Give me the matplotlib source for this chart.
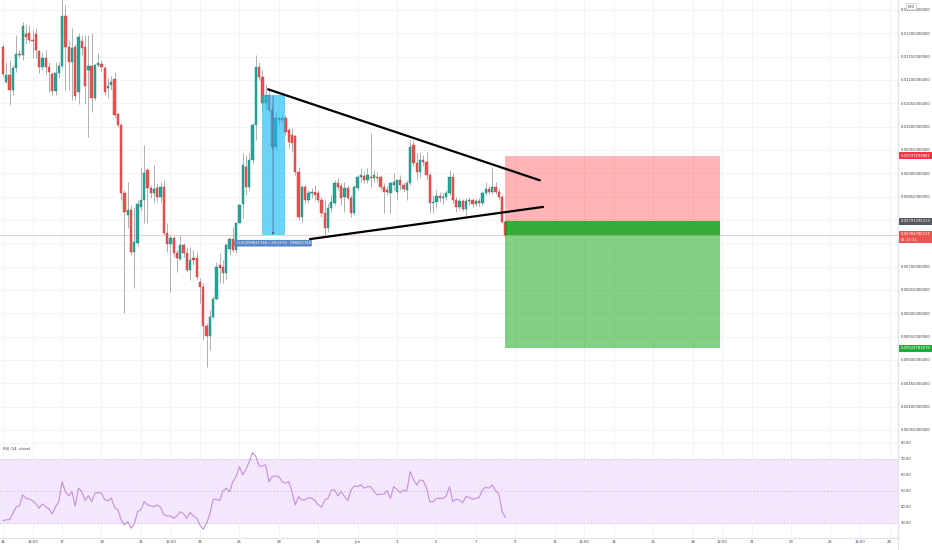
import numpy as np
import pandas as pd
import matplotlib
matplotlib.use("Agg")
import matplotlib.pyplot as plt
import matplotlib.dates as mdates
from matplotlib.transforms import blended_transform_factory
from matplotlib.lines import Line2D

# 4h candles from 14 May, prices in 1e-3 USD
open_m = [11.71, 10.96, 11.11, 10.79, 11.26, 11.56, 11.54, 11.99, 12.01, 11.86,
          11.99, 11.62, 11.28, 11.47, 11.28, 11.13, 10.76, 11.15, 11.30, 12.37,
          11.71, 11.39, 11.71, 10.74, 11.84, 11.71, 11.21, 11.30, 10.61, 11.32,
          11.34, 11.26, 10.83, 10.89, 11.02, 10.27, 10.04, 8.58, 8.11, 8.21,
          7.31, 7.51, 8.28, 8.43, 9.07, 8.69, 8.58, 8.69, 8.49, 8.71,
          7.72, 7.48, 7.61, 7.29, 7.16, 7.46, 7.29, 6.93, 7.19, 7.19,
          6.67, 6.56, 5.73, 5.51, 5.92, 6.31, 7.03, 6.99, 6.86, 7.38,
          7.59, 7.36, 7.94, 8.34, 9.14, 8.71, 9.29, 10.04, 11.28, 11.06,
          10.51, 10.68, 10.36, 9.56, 10.19, 10.14, 10.19, 9.93, 9.82, 9.80,
          9.03, 8.06, 8.71, 8.43, 8.58, 8.60, 8.58, 8.43, 8.15, 7.83,
          8.26, 8.36, 8.79, 8.73, 8.49, 8.69, 8.47, 8.15, 8.69, 8.92,
          8.94, 8.86, 8.92, 8.90, 8.92, 8.92, 8.71, 8.64, 8.58, 8.75,
          8.60, 8.86, 8.75, 8.64, 8.79, 9.61, 9.22, 9.03, 9.29, 9.24,
          8.96, 8.36, 8.39, 8.51, 8.47, 8.49, 8.58, 8.92, 8.43, 8.28,
          8.41, 8.24, 8.41, 8.43, 8.34, 8.41, 8.36, 8.58, 8.66, 8.60,
          8.71, 8.60, 8.49, 7.96]
high_m = [11.77, 11.39, 11.43, 11.32, 11.96, 11.64, 12.24, 12.20, 12.18, 12.07,
          12.11, 11.64, 11.60, 11.64, 11.39, 11.17, 11.39, 11.39, 12.75, 12.61,
          11.86, 12.11, 11.77, 12.01, 11.96, 11.96, 11.96, 12.01, 11.34, 11.58,
          11.43, 11.30, 11.04, 11.09, 11.17, 10.29, 10.08, 8.64, 8.81, 8.32,
          8.28, 8.43, 9.14, 9.61, 9.11, 8.75, 9.18, 8.79, 8.81, 8.86,
          7.94, 7.68, 7.66, 7.36, 7.68, 7.51, 7.40, 7.42, 7.36, 7.31,
          6.76, 6.65, 5.79, 6.07, 6.37, 7.10, 7.29, 7.14, 7.51, 7.64,
          7.85, 7.96, 8.34, 9.44, 9.39, 9.44, 10.08, 11.54, 11.39, 11.21,
          10.89, 10.83, 10.46, 10.31, 10.21, 10.25, 10.25, 9.97, 9.97, 9.82,
          9.14, 8.75, 8.75, 8.64, 8.69, 8.75, 8.64, 8.49, 8.43, 8.36,
          8.54, 8.86, 8.90, 8.79, 8.81, 8.75, 8.54, 8.75, 8.96, 9.11,
          9.03, 9.11, 9.86, 9.07, 9.03, 8.96, 8.79, 8.73, 8.81, 9.01,
          8.86, 8.96, 8.81, 8.86, 9.71, 9.71, 9.44, 9.46, 9.39, 9.46,
          9.01, 8.54, 8.64, 8.60, 8.58, 8.64, 9.07, 9.01, 8.49, 8.47,
          8.45, 8.47, 8.49, 8.47, 8.45, 8.47, 8.62, 8.81, 8.73, 9.14,
          8.81, 8.69, 8.54, 8.00]
low_m = [11.09, 10.94, 10.46, 10.68, 11.17, 11.47, 11.43, 11.77, 11.79, 11.47,
         11.47, 11.15, 11.21, 11.11, 10.74, 10.68, 10.68, 11.04, 11.26, 10.79,
         10.79, 10.57, 10.57, 10.49, 11.54, 10.49, 9.78, 10.31, 10.57, 11.28,
         11.17, 10.68, 10.61, 10.79, 10.19, 9.99, 8.43, 6.01, 7.83, 7.25,
         6.54, 7.44, 8.21, 7.94, 7.94, 8.47, 8.36, 8.39, 8.39, 7.68,
         7.31, 6.46, 7.21, 6.88, 7.14, 7.21, 6.88, 6.71, 7.04, 6.71,
         6.22, 5.43, 4.85, 5.21, 5.90, 6.29, 6.65, 6.65, 6.71, 7.25,
         7.31, 7.29, 7.94, 8.04, 8.54, 8.64, 9.22, 9.71, 11.00, 10.31,
         10.36, 10.31, 9.50, 9.50, 10.04, 10.10, 9.82, 9.54, 9.46, 8.96,
         8.00, 7.96, 8.36, 8.36, 8.47, 8.43, 8.39, 8.06, 7.64, 7.74,
         8.17, 8.32, 8.64, 8.32, 8.17, 8.43, 8.06, 8.11, 8.64, 8.81,
         8.79, 8.79, 8.71, 8.81, 8.81, 8.64, 8.15, 8.54, 8.15, 8.64,
         8.43, 8.64, 8.60, 8.43, 8.75, 9.16, 8.86, 8.90, 9.16, 8.86,
         8.15, 8.15, 8.28, 8.39, 8.34, 8.43, 8.54, 8.36, 8.17, 8.21,
         8.19, 8.06, 8.32, 8.28, 8.30, 8.30, 8.32, 8.54, 8.56, 8.56,
         8.56, 8.43, 7.94, 7.64]
close_m = [11.13, 11.11, 10.79, 11.26, 11.56, 11.54, 12.16, 11.92, 11.86, 11.84,
           11.64, 11.28, 11.47, 11.28, 11.17, 10.76, 11.15, 11.30, 12.37, 11.71,
           11.39, 11.69, 10.66, 11.92, 11.69, 10.87, 11.30, 10.61, 11.32, 11.36,
           11.28, 10.74, 10.87, 10.96, 10.25, 10.04, 8.58, 8.17, 8.21, 7.31,
           7.53, 8.34, 8.43, 9.01, 8.69, 8.58, 8.66, 8.49, 8.71, 7.72,
           7.48, 7.61, 7.29, 7.19, 7.46, 7.29, 6.93, 7.14, 7.14, 6.78,
           6.56, 5.73, 5.51, 5.92, 6.31, 6.99, 6.97, 6.86, 7.46, 7.59,
           7.36, 7.94, 8.32, 9.18, 8.71, 9.29, 10.04, 11.28, 11.06, 10.51,
           10.68, 10.36, 9.56, 10.19, 10.14, 10.19, 9.89, 9.67, 9.65, 9.03,
           8.06, 8.71, 8.43, 8.58, 8.60, 8.54, 8.43, 8.15, 7.83, 8.26,
           8.39, 8.79, 8.71, 8.47, 8.69, 8.47, 8.15, 8.71, 8.92, 8.96,
           8.86, 8.96, 8.90, 8.96, 8.90, 8.71, 8.60, 8.60, 8.79, 8.81,
           8.86, 8.75, 8.66, 8.79, 9.56, 9.22, 9.03, 9.29, 9.24, 8.96,
           8.36, 8.39, 8.51, 8.47, 8.49, 8.58, 8.92, 8.43, 8.28, 8.41,
           8.24, 8.41, 8.43, 8.34, 8.41, 8.36, 8.58, 8.66, 8.60, 8.71,
           8.60, 8.49, 7.96, 7.668]
rsi_vals = [31.5, 32, 32, 36, 40, 40.6, 47.5, 45.4, 44.8, 44,
            41.9, 39.2, 41.9, 40.2, 38.8, 35.6, 40.2, 43.3, 55.8, 49.6,
            46.9, 49.6, 40.6, 51.7, 49.6, 44, 47, 43.3, 48.5, 49,
            48.5, 44.4, 44, 45.4, 39.8, 38.1, 31.9, 28.8, 30.8, 26.7,
            29.4, 37.1, 38.1, 43.3, 41.3, 40.6, 40.2, 41.3, 39.8, 35,
            34.4, 34.4, 32.9, 34.4, 37.1, 35.6, 32.9, 36.5, 34.4, 32.9,
            28.8, 26, 29.8, 35.6, 44.8, 44.8, 44, 50.2, 51.7, 49.6,
            55.8, 59, 65.2, 60, 63.5, 68.3, 74, 71.5, 65.6, 65.6,
            66.3, 55.8, 59, 59.4, 59, 55.8, 54.8, 55.8, 49.6, 41.3,
            46.5, 44.4, 44.4, 45.8, 45.4, 44, 41.3, 39.8, 44.4, 45.4,
            50.6, 50.6, 46.9, 49.6, 46.5, 44, 50.6, 53.1, 52.7, 53.8,
            51.7, 52.7, 52.7, 49.6, 47.5, 48.1, 47.9, 50.2, 45.4, 52.7,
            51, 49, 50.6, 50.0, 62.1, 57.3, 53.8, 56.9, 56.5, 51.7,
            43.3, 43.3, 45.4, 45.4, 45.4, 46.9, 52.7, 43.3, 44.8, 44.4,
            42.7, 46.5, 46, 44.8, 45.4, 45.8, 50.6, 52.3, 51.7, 53.8,
            50.2, 48.1, 37.1, 33.5]

start = "2021-05-14 00:00"

tick_dates = ["2021-05-14 00:00", "2021-05-15 12:00", "2021-05-17 00:00", "2021-05-19 00:00",
              "2021-05-21 00:00", "2021-05-22 12:00", "2021-05-24 00:00", "2021-05-26 00:00",
              "2021-05-28 00:00", "2021-05-30 00:00", "2021-06-01 00:00", "2021-06-03 00:00",
              "2021-06-05 00:00", "2021-06-07 00:00", "2021-06-09 00:00", "2021-06-11 00:00",
              "2021-06-12 12:00", "2021-06-14 00:00", "2021-06-16 00:00", "2021-06-18 00:00",
              "2021-06-19 12:00", "2021-06-21 00:00", "2021-06-23 00:00", "2021-06-25 00:00",
              "2021-06-26 12:00", "2021-06-28 00:00"]
tick_labels = ["14", "12:00", "17", "19", "21", "12:00", "24", "26", "28", "30", "Jun",
               "3", "5", "7", "9", "11", "12:00", "14", "16", "18", "12:00", "21", "23",
               "25", "12:00", "28"]

# drawings
upper_line = (["2021-05-27 11:00", "2021-06-10 06:00"], [10.80, 8.85])
lower_line = (["2021-05-29 14:00", "2021-06-10 10:00"], [7.59, 8.28])
measure_times = ["2021-05-27 03:30", "2021-05-27 17:00", "2021-05-28 07:30"]
measure_from = 0.01066825748
measure_to = 0.00768000000
measure_text = "-0.00298825748 (-28.01%) -298825748"
pos_times = ["2021-06-08 12:00", "2021-06-19 10:00"]
stop_price = 0.00937499881
entry_price = 0.00797295213
target_price = 0.00524781679
last_price = 0.00766796121
countdown = "01:17:31"


def to_num(strings):
    return mdates.date2num(pd.to_datetime(strings, format="%Y-%m-%d %H:%M"))


o = np.array(open_m) * 1e-3
h = np.array(high_m) * 1e-3
l = np.array(low_m) * 1e-3
c = np.array(close_m) * 1e-3
times = mdates.date2num(pd.date_range(start, periods=len(c), freq="4h"))
t0 = mdates.date2num(pd.Timestamp(start))

teal = "#26a69a"
red = "#ef5350"
grid_c = "#f0f3fa"
txt_c = "#3a3d45"
fs = 2.7

fig = plt.figure(figsize=(9.32, 5.5), dpi=100)
ax = fig.add_axes([0, 108 / 550, 898 / 932, 442 / 550])
ax_rsi = fig.add_axes([0, 12 / 550, 898 / 932, 96 / 550], sharex=ax)

# candles
up = c >= o
w = 0.7 / 6
ax.vlines(times, l, h, color="#a3a3a3", lw=0.6, zorder=2)
ax.bar(times, np.abs(c - o), bottom=np.minimum(o, c), width=w,
       color=np.where(up, teal, red), edgecolor=np.where(up, "#1e7f76", "#b83c3a"),
       lw=0.3, zorder=3)

ax.axhline(last_price, color="#f6b2b0", lw=0.5, zorder=1)

# trend lines
for ts, ps in (upper_line, lower_line):
    ax.plot(to_num(ts), np.array(ps) * 1e-3,
            color="black", lw=1.6, solid_capstyle="round", zorder=6)

# measure tool
mt = to_num(measure_times)
ax.fill_between([mt[0], mt[2]], measure_to, measure_from, color="#12b9f5",
                alpha=0.62, lw=0, zorder=5)
ax.annotate("", xy=(mt[1], measure_to), xytext=(mt[1], measure_from),
            arrowprops=dict(arrowstyle="-|>", color="#3f5f8f", lw=0.5,
                            mutation_scale=3, shrinkA=0, shrinkB=0), zorder=6)
ax.annotate(measure_text, xy=(mt[1], measure_to), xytext=(0, -6),
            textcoords="offset points", ha="center", va="center", fontsize=fs,
            color="white", zorder=7,
            bbox=dict(boxstyle="round,pad=0.35", fc="#5a86c6", ec="none"))

# short position tool
pt = to_num(pos_times)
ax.fill_between(pt, entry_price, stop_price, color="#ff0000", alpha=0.29, lw=0, zorder=5)
ax.fill_between(pt, target_price, entry_price, color="#00a000", alpha=0.49, lw=0, zorder=5)
ax.fill_between(pt, last_price, entry_price, color="#1ea020", alpha=0.75, lw=0, zorder=5)

# axes styling
price_ticks = [0.0035, 0.0040, 0.0045, 0.0050, 0.0055, 0.0060, 0.0065, 0.0070, 0.0075,
               0.0080, 0.0085, 0.0090, 0.0095, 0.0100, 0.0105, 0.0110, 0.0115, 0.0120, 0.0125]
hidden = (0.0075, 0.0080)
ax.set_yticks(price_ticks)
ax.set_yticklabels(["" if any(abs(p - q) < 1e-9 for q in hidden) else f"{p:.11f}"
                    for p in price_ticks])
ax.set_ylim(0.003242, 0.012714)
ax.set_xlim(t0 - 0.152, t0 + 45.43)
tick_pos = to_num(tick_dates)

for a in (ax, ax_rsi):
    a.yaxis.tick_right()
    a.tick_params(axis="y", length=0, pad=2.2, labelsize=fs, colors=txt_c)
    a.tick_params(axis="x", length=0, pad=1.6, labelsize=fs, colors=txt_c)
    a.set_xticks(tick_pos)
    a.grid(True, color=grid_c, lw=0.6)
    a.set_axisbelow(True)
    for s in ("top", "left"):
        a.spines[s].set_visible(False)
    for s in ("right", "bottom"):
        a.spines[s].set_color("#e0e3eb")
        a.spines[s].set_linewidth(0.8)
plt.setp(ax.get_xticklabels(), visible=False)
ax_rsi.set_xticklabels(tick_labels)

# RSI pane
ax_rsi.axhspan(30, 70, color="#f4e6fd", lw=0, zorder=0)
for lv in (70, 50, 30):
    ax_rsi.axhline(lv, color="#cbbcd6", lw=0.6, ls=(0, (2, 2)), zorder=1)
ax_rsi.plot(times, rsi_vals, color="#c58fd9", lw=0.8, zorder=3)
ax_rsi.set_ylim(20.6, 80.6)
ax_rsi.set_yticks([30, 40, 50, 60, 70, 80])
ax_rsi.set_yticklabels([f"{v:.2f}" for v in (30, 40, 50, 60, 70, 80)])
ax_rsi.text(0.003, 0.925, "RSI (14, close)", transform=ax_rsi.transAxes, fontsize=fs,
            color=txt_c, va="center", ha="left")

# price scale labels
tr = blended_transform_factory(ax.transAxes, ax.transData)
box_labels = [(stop_price, f"{stop_price:.11f}", "#f23645"),
              (entry_price, f"{entry_price:.11f}", "#55585f"),
              (target_price, f"{target_price:.11f}", "#22ab3d")]
for p, s, col in box_labels:
    ax.text(1.0035, p, s, transform=tr, fontsize=fs, color="white", va="center",
            ha="left", clip_on=False, zorder=8,
            bbox=dict(boxstyle="square,pad=0.45", fc=col, ec="none"))
ax.annotate(f"{last_price:.11f}\n{countdown}", xy=(1.0035, last_price), xycoords=tr,
            xytext=(0, 2.3), textcoords="offset points", fontsize=fs, color="white",
            va="top", ha="left", linespacing=1.5, annotation_clip=False, zorder=8,
            bbox=dict(boxstyle="square,pad=0.45", fc="#ef5350", ec="none"))
ax.text(1.011, 0.985, "USD", transform=ax.transAxes, fontsize=2.3, color=txt_c,
        va="center", ha="left", clip_on=False, zorder=8,
        bbox=dict(boxstyle="round,pad=0.4", fc="white", ec="#b0b3bb", lw=0.4))

fig.add_artist(Line2D([898 / 932, 898 / 932], [0, 1], transform=fig.transFigure,
                      color="#e0e3eb", lw=0.8))

fig.savefig("out.png", dpi=100)
